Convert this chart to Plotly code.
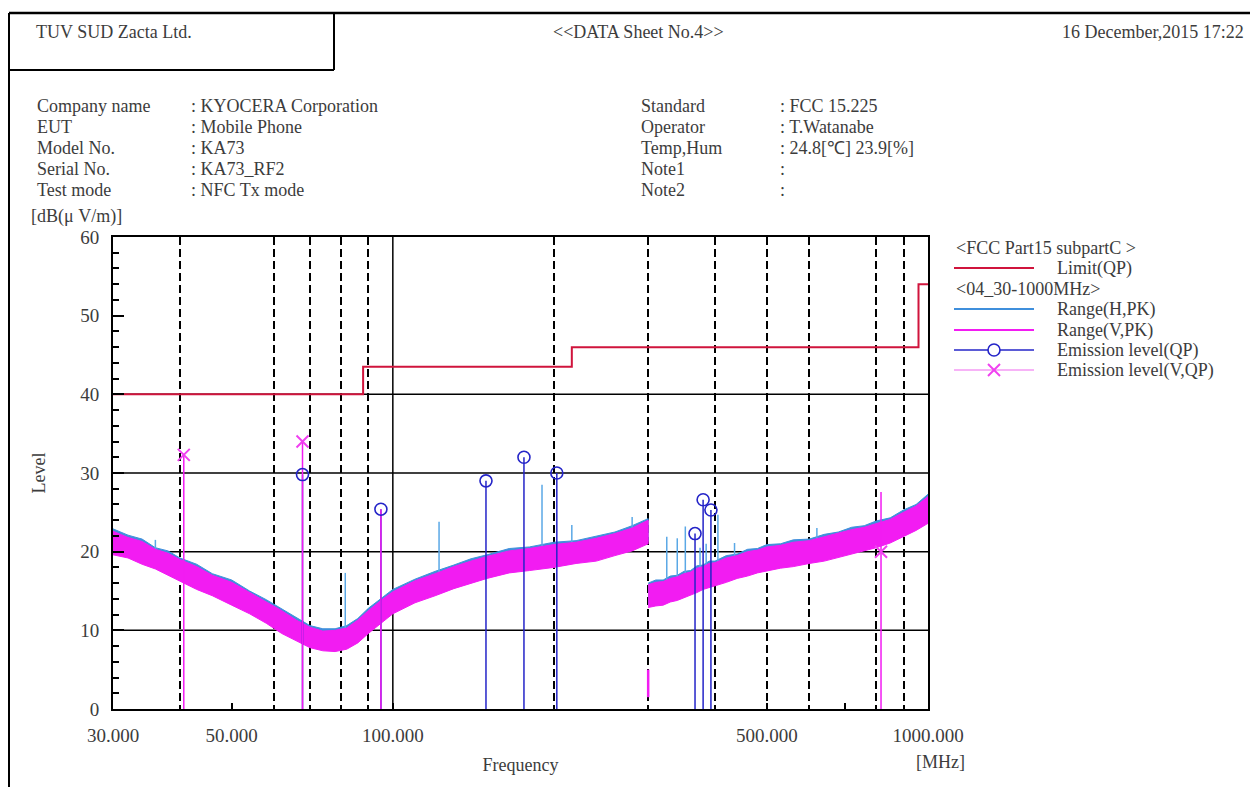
import math
import plotly.graph_objects as go

# ---------------- data ----------------
# Limit FCC Part15 subpart C (QP)
limit_edges = [30, 88, 216, 960, 1000]
limit_values = [40.0, 43.5, 46.0, 54.0, 54.0]

# Range 1 (30-300 MHz) noise band envelopes
r1_freq = [30, 32, 34, 36, 38, 40, 43, 46, 50, 54, 58, 62, 66, 70, 74, 78, 82, 86, 90, 95,
           100, 110, 120, 130, 140, 150, 165, 180, 200, 220, 240, 260, 280, 300]
r1_v_upper = [22.6, 21.8, 21.3, 20.3, 19.8, 19.0, 18.1, 17.0, 16.1, 14.8, 13.6, 12.5, 11.3, 10.4, 9.9, 10.0, 10.3,
              11.3, 12.5, 13.8, 14.9, 16.3, 17.2, 18.1, 18.8, 19.4, 20.1, 20.4, 20.9, 21.2, 21.7, 22.3, 23.0, 24.0]
r1_v_lower = [19.6, 19.2, 18.4, 17.8, 17.0, 16.3, 15.2, 14.4, 13.2, 12.1, 10.9, 9.6, 8.7, 7.8, 7.4, 7.3, 7.6,
              8.4, 9.6, 10.9, 12.1, 13.5, 14.4, 15.3, 16.0, 16.6, 17.3, 17.6, 18.0, 18.5, 18.8, 19.5, 20.1, 21.0]
r1_h_upper = [22.9, 22.1, 21.6, 20.5, 20.1, 19.2, 18.4, 17.2, 16.4, 15.0, 13.9, 12.7, 11.6, 10.6, 10.2, 10.2, 10.6,
              11.5, 12.8, 14.0, 15.2, 16.5, 17.5, 18.3, 19.1, 19.6, 20.4, 20.6, 21.2, 21.4, 22.0, 22.5, 23.3, 24.2]
r1_h_lower = [19.9, 19.5, 18.7, 18.0, 17.3, 16.6, 15.5, 14.7, 13.5, 12.4, 11.2, 9.9, 9.0, 8.1, 7.7, 7.6, 7.9,
              8.7, 9.9, 11.2, 12.4, 13.8, 14.7, 15.6, 16.3, 16.9, 17.6, 17.9, 18.3, 18.8, 19.1, 19.8, 20.4, 21.3]

# Range 2 (300-1000 MHz) noise band envelopes
r2_freq = [300, 310, 320, 330, 340, 350, 360, 370, 380, 390, 400, 420, 440, 460, 480, 500, 530, 560,
           600, 640, 680, 720, 760, 800, 850, 900, 950, 1000]
r2_v_upper = [15.8, 16.1, 16.2, 16.6, 16.8, 17.2, 17.4, 17.9, 18.1, 18.5, 18.6, 19.2, 19.5, 20.0, 20.2, 20.6,
              20.8, 21.2, 21.4, 21.9, 22.3, 22.8, 23.1, 23.6, 24.1, 25.0, 25.8, 27.0]
r2_v_lower = [12.9, 13.1, 13.2, 13.6, 13.8, 14.1, 14.5, 14.8, 15.2, 15.4, 15.7, 16.1, 16.6, 16.9, 17.3, 17.5,
              17.9, 18.1, 18.5, 18.8, 19.3, 19.7, 20.1, 20.5, 21.1, 21.9, 22.7, 23.6]
r2_h_upper = [16.0, 16.4, 16.4, 16.9, 17.0, 17.5, 17.6, 18.2, 18.3, 18.8, 18.8, 19.5, 19.7, 20.3, 20.4, 20.9,
              21.0, 21.5, 21.6, 22.2, 22.5, 23.1, 23.3, 23.9, 24.3, 25.3, 26.0, 27.3]
r2_h_lower = [13.2, 13.4, 13.5, 13.9, 14.1, 14.4, 14.8, 15.1, 15.5, 15.7, 16.0, 16.4, 16.9, 17.2, 17.6, 17.8,
              18.2, 18.4, 18.8, 19.1, 19.6, 20.0, 20.4, 20.8, 21.4, 22.2, 23.0, 23.9]

# Horizontal (H) peak spikes
h_spike_freq = [36.0, 81.5, 122.0, 190.0, 216.0, 280.0, 325.0, 340.0, 352.0, 375.0, 385.0, 405.0, 435.0, 620.0]
h_spike_base = [19.5, 9.5, 15.8, 19.2, 19.8, 21.3, 15.0, 15.3, 15.6, 16.4, 16.7, 17.0, 17.8, 20.0]
h_spike_top = [21.5, 17.3, 23.8, 28.5, 23.4, 24.4, 21.9, 21.7, 23.2, 20.5, 21.0, 24.7, 21.1, 23.0]

# Vertical (V) trace drop at start of range 2
v_dip_freq = [300.0]
v_dip_low = [1.5]
v_dip_high = [5.0]

# Emission level (QP) - circles
h_qp_freq = [67.8, 95.0, 149.3, 175.8, 202.5, 367.0, 380.0, 393.0]
h_qp_level = [29.8, 25.4, 29.0, 32.0, 30.0, 22.3, 26.6, 25.3]

# Vertical peaks (stems)
v_stem_freq = [40.68, 67.8, 95.0, 817.0]
v_stem_top = [32.3, 34.0, 25.4, 27.6]

# Emission level (V,QP) - crosses
v_qp_freq = [40.68, 67.8, 817.0]
v_qp_level = [32.3, 34.0, 20.0]

# axes
x_tick_vals = [30, 50, 100, 500, 700, 1000]
x_tick_text = ["30.000", "50.000", "100.000", "500.000", "", "1000.000"]
x_dashed_grid = [40, 60, 70, 80, 90, 200, 300, 400, 500, 600, 800, 900]
x_solid_grid = [100]
y_tick_vals = [0, 10, 20, 30, 40, 50, 60]
y_solid_grid = [10, 20, 30, 40]

# ---------------- styling ----------------
OFF = 8                       # page body margin of the html page
PAGE_W, PAGE_H = 1258, 787
W, H = PAGE_W - OFF, PAGE_H - OFF
L, R, T, B = 113, 928, 237, 709  # plot area in page pixels
FONT = "Liberation Serif"
TXT = "#3c3c3c"
FS = 18
C_LIMIT = "#d0143c"
C_HBAND = "#3f8fdc"
C_VBAND = "#f21cf2"
C_QP = "#2424c8"
C_VQP = "#f040f0"


def px(xp):
    return (xp - L) / (R - L)


def py(yp):
    return (B - yp) / (B - T)


def band(freq, up, lo):
    return list(freq) + list(reversed(freq)), list(up) + list(reversed(lo))


def segs(freq, lo, hi):
    xs, ys = [], []
    for f, a, b in zip(freq, lo, hi):
        xs += [f, f, None]
        ys += [a, b, None]
    return xs, ys


def gapped(freq, lev):
    xs, ys = [], []
    for f, v in zip(freq, lev):
        xs += [f, None]
        ys += [v, None]
    return xs, ys


fig = go.Figure()

# H bands (underneath)
for fr, up, lo in [(r1_freq, r1_h_upper, r1_h_lower), (r2_freq, r2_h_upper, r2_h_lower)]:
    bx, by = band(fr, up, lo)
    fig.add_trace(go.Scatter(x=bx, y=by, fill="toself", fillcolor=C_HBAND, mode="lines",
                             line=dict(color=C_HBAND, width=1), showlegend=False, hoverinfo="skip"))

# H spikes
sx, sy = segs(h_spike_freq, h_spike_base, h_spike_top)
fig.add_trace(go.Scatter(x=sx, y=sy, mode="lines", line=dict(color="#5aa8e6", width=1.5),
                         name="Range(H,PK)", showlegend=False))

# V bands
for fr, up, lo in [(r1_freq, r1_v_upper, r1_v_lower), (r2_freq, r2_v_upper, r2_v_lower)]:
    bx, by = band(fr, up, lo)
    fig.add_trace(go.Scatter(x=bx, y=by, fill="toself", fillcolor=C_VBAND, mode="lines",
                             line=dict(color=C_VBAND, width=1), showlegend=False, hoverinfo="skip"))

# V dip
dx, dy = segs(v_dip_freq, v_dip_low, v_dip_high)
fig.add_trace(go.Scatter(x=dx, y=dy, mode="lines", line=dict(color=C_VBAND, width=2.5),
                         name="Range(V,PK)", showlegend=False))

# QP stems (blue)
qx, qy = segs(h_qp_freq, [0] * len(h_qp_freq), h_qp_level)
fig.add_trace(go.Scatter(x=qx, y=qy, mode="lines", line=dict(color=C_QP, width=1.5),
                         showlegend=False, hoverinfo="skip"))
# V stems (magenta)
vx, vy = segs(v_stem_freq, [0] * len(v_stem_freq), v_stem_top)
fig.add_trace(go.Scatter(x=vx, y=vy, mode="lines", line=dict(color=C_VBAND, width=1.5),
                         showlegend=False, hoverinfo="skip"))

# QP markers
mx, my = gapped(h_qp_freq, h_qp_level)
fig.add_trace(go.Scatter(x=mx, y=my, mode="markers",
                         marker=dict(symbol="circle-open", size=12, color=C_QP, line=dict(width=1.6)),
                         name="Emission level(QP)", showlegend=False))
# V QP markers
ux, uy = gapped(v_qp_freq, v_qp_level)
fig.add_trace(go.Scatter(x=ux, y=uy, mode="markers",
                         marker=dict(symbol="x-thin-open", size=12, color=C_VQP, line=dict(width=2, color=C_VQP)),
                         name="Emission level(V,QP)", showlegend=False))

# Limit
fig.add_trace(go.Scatter(x=limit_edges, y=limit_values, mode="lines", line=dict(color=C_LIMIT, width=2, shape="hv"),
                         name="Limit(QP)", showlegend=False))

shapes = []
for f in x_solid_grid:
    shapes.append(dict(type="line", xref="x", yref="paper", x0=f, x1=f, y0=0, y1=1,
                       line=dict(color="black", width=1.5), layer="below"))
for v in y_solid_grid:
    shapes.append(dict(type="line", xref="paper", yref="y", x0=0, x1=1, y0=v, y1=v,
                       line=dict(color="black", width=1.5), layer="below"))


def pline(x0, y0, x1, y1, color="black", width=2):
    shapes.append(dict(type="line", xref="paper", yref="paper", x0=px(x0), x1=px(x1), y0=py(y0), y1=py(y1),
                       line=dict(color=color, width=width)))


# outer frame and header box
pline(9, 13, 1258, 13, width=2.5)
pline(9, 13, 9, 787)
pline(334, 13, 334, 70)
pline(9, 70, 334, 70)

ann = []


def text(s, x, y, anchor="left", size=FS, angle=0):
    ann.append(dict(text=s, xref="paper", yref="paper", x=px(x), y=py(y), xanchor=anchor, yanchor="middle",
                    showarrow=False, textangle=angle, font=dict(family=FONT, size=size, color=TXT)))


text("TUV SUD Zacta Ltd.", 34, 32)
text("&lt;&lt;DATA Sheet No.4&gt;&gt;", 638, 32, anchor="center")
text("16 December,2015 17:22", 1246, 32, anchor="right")

left_labels = ["Company name", "EUT", "Model No.", "Serial No.", "Test mode"]
left_values = [": KYOCERA Corporation", ": Mobile Phone", ": KA73", ": KA73_RF2", ": NFC Tx mode"]
right_labels = ["Standard", "Operator", "Temp,Hum", "Note1", "Note2"]
right_values = [": FCC 15.225", ": T.Watanabe", ": 24.8[℃] 23.9[%]", ":", ":"]
rows = [106, 127, 148, 169, 190]
for i, yv in enumerate(rows):
    text(left_labels[i], 35, yv)
    text(left_values[i], 189, yv)
    text(right_labels[i], 639, yv)
    text(right_values[i], 778, yv)

text("[dB(μ V/m)]", 29, 216)
text("[MHz]", 941, 762, anchor="center")

# legend (drawn as a key)
LG_X0, LG_X1, LG_TX = 954, 1034, 1055
legend_rows = [248, 268, 289, 309, 330, 350, 370]
text("&lt;FCC Part15 subpartC &gt;", LG_X0, legend_rows[0])
pline(LG_X0, legend_rows[1], LG_X1, legend_rows[1], color=C_LIMIT, width=2)
text("Limit(QP)", LG_TX, legend_rows[1])
text("&lt;04_30-1000MHz&gt;", LG_X0, legend_rows[2])
pline(LG_X0, legend_rows[3], LG_X1, legend_rows[3], color=C_HBAND, width=2)
text("Range(H,PK)", LG_TX, legend_rows[3])
pline(LG_X0, legend_rows[4], LG_X1, legend_rows[4], color=C_VBAND, width=2)
text("Range(V,PK)", LG_TX, legend_rows[4])
pline(LG_X0, legend_rows[5], LG_X1, legend_rows[5], color=C_QP, width=1.5)
cx, cy = (LG_X0 + LG_X1) / 2, legend_rows[5]
shapes.append(dict(type="circle", xref="paper", yref="paper", x0=px(cx - 6), x1=px(cx + 6),
                   y0=py(cy + 6), y1=py(cy - 6), line=dict(color=C_QP, width=1.6), fillcolor="white"))
text("Emission level(QP)", LG_TX, legend_rows[5])
pline(LG_X0, legend_rows[6], LG_X1, legend_rows[6], color="#f59af5", width=1.5)
cy = legend_rows[6]
pline(cx - 6, cy - 6, cx + 6, cy + 6, color=C_VQP, width=2)
pline(cx - 6, cy + 6, cx + 6, cy - 6, color=C_VQP, width=2)
text("Emission level(V,QP)", LG_TX, legend_rows[6])

fig.update_layout(
    width=W, height=H, autosize=False,
    margin=dict(l=L - OFF, r=W - (R - OFF), t=T - OFF, b=H - (B - OFF), pad=0),
    paper_bgcolor="white", plot_bgcolor="white",
    font=dict(family=FONT, size=FS, color=TXT),
    shapes=shapes, annotations=ann, showlegend=False,
    xaxis=dict(type="log", range=[math.log10(30), 3], tickmode="array", tickvals=x_tick_vals,
               ticktext=x_tick_text, ticks="inside", ticklen=6, tickwidth=1.5, tickcolor="black",
               showline=True, linecolor="black", linewidth=2, mirror=True, showgrid=False, zeroline=False,
               ticklabelstandoff=8, tickfont=dict(family=FONT, size=19, color=TXT),
               minor=dict(tickmode="array", tickvals=x_dashed_grid, showgrid=True, gridcolor="black",
                          gridwidth=1.5, griddash="8px,4px", ticks=""),
               title=dict(text="Frequency", standoff=14, font=dict(family=FONT, size=FS, color=TXT))),
    yaxis=dict(range=[0, 60], tickmode="array", tickvals=y_tick_vals, ticks="inside", ticklen=11,
               tickwidth=1.5, tickcolor="black", showline=True, linecolor="black", linewidth=2, mirror=True,
               showgrid=False, zeroline=False, ticklabelstandoff=8,
               tickfont=dict(family=FONT, size=19, color=TXT),
               minor=dict(dtick=2, ticks="inside", ticklen=6, tickcolor="black", tickwidth=1.5, showgrid=False),
               title=dict(text="Level", standoff=30, font=dict(family=FONT, size=FS, color=TXT))),
)

fig.write_html("out.html")
